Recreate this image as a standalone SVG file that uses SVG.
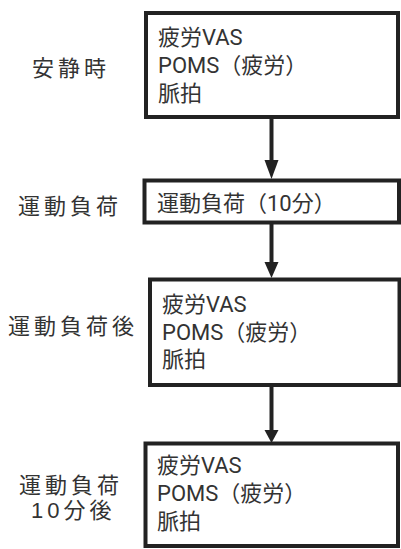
<svg xmlns="http://www.w3.org/2000/svg" width="401" height="549" viewBox="0 0 401 549">
<style>
.box{fill:#fff;stroke:#222;stroke-width:4}
.t{font-family:Roboto,"Noto Sans CJK JP",sans-serif;font-size:22px;fill:#333}
.lb{font-family:"Liberation Sans","Noto Sans CJK JP",sans-serif;font-size:22px;letter-spacing:4px;fill:#333}
.ln{stroke:#222;stroke-width:4;fill:none}
.hd{fill:#222}
</style>
<rect width="401" height="549" fill="#fff"/>
<g id="labels">
<text class="lb" x="32" y="75.5">安静時</text>
<text class="lb" x="18" y="213.5">運動負荷</text>
<text class="lb" x="8" y="333.5">運動負荷後</text>
<text class="lb"><tspan x="19" y="493">運動負荷</tspan><tspan x="31" y="518">10分後</tspan></text>
</g>
<g id="connectors">
<line class="ln" x1="271.5" y1="119" x2="271.5" y2="163"/>
<polygon class="hd" points="264.5,160 278.5,160 271.5,179"/>
<line class="ln" x1="271.5" y1="224" x2="271.5" y2="265"/>
<polygon class="hd" points="264.5,262 278.5,262 271.5,278"/>
<line class="ln" x1="271.5" y1="387" x2="271.5" y2="433"/>
<polygon class="hd" points="264.5,430 278.5,430 271.5,443"/>
</g>
<g id="node1">
<rect class="box" x="146" y="13" width="252" height="104"/>
<text class="t"><tspan x="158" y="45">疲労VAS</tspan><tspan x="158" y="73">POMS（疲労）</tspan><tspan x="158" y="101">脈拍</tspan></text>
</g>
<g id="node2">
<rect class="box" x="144.5" y="180.5" width="254.5" height="42"/>
<text class="t" x="157" y="211">運動負荷（10分）</text>
</g>
<g id="node3">
<rect class="box" x="150" y="279.5" width="249.5" height="105.5"/>
<text class="t"><tspan x="162" y="312">疲労VAS</tspan><tspan x="162" y="340">POMS（疲労）</tspan><tspan x="162" y="367">脈拍</tspan></text>
</g>
<g id="node4">
<rect class="box" x="145.5" y="443.5" width="252.5" height="102.5"/>
<text class="t"><tspan x="157" y="473">疲労VAS</tspan><tspan x="157" y="501">POMS（疲労）</tspan><tspan x="157" y="529">脈拍</tspan></text>
</g>
</svg>
